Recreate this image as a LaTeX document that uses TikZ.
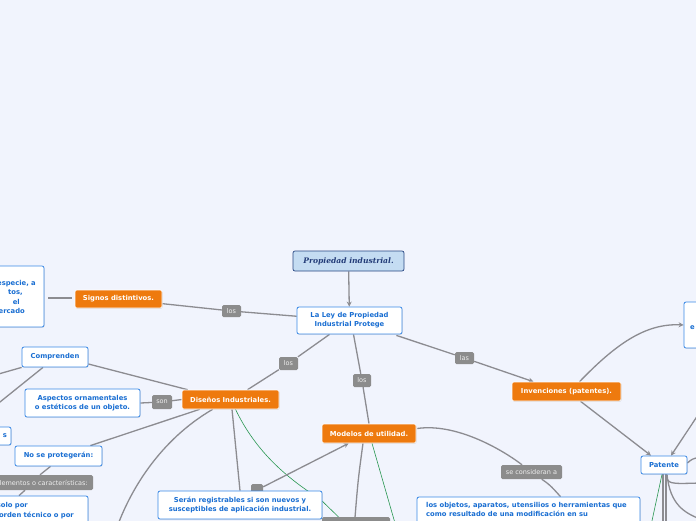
\documentclass[tikz,border=0pt]{standalone}
\usepackage{fontspec}
\setmainfont{DejaVu Sans}
\newfontfamily\titlefont{DejaVu Serif}
\usetikzlibrary{arrows.meta,calc,backgrounds,shadows}
\definecolor{bgc}{RGB}{241,244,253}
\definecolor{orf}{RGB}{238,122,14}
\definecolor{blb}{RGB}{59,137,230}
\definecolor{blt}{RGB}{25,110,210}
\definecolor{prf}{RGB}{196,220,242}
\definecolor{prb}{RGB}{40,70,130}
\definecolor{prt}{RGB}{35,60,120}
\definecolor{lbf}{RGB}{140,140,140}
\definecolor{lbt}{RGB}{238,238,238}
\definecolor{cng}{RGB}{140,140,145}
\definecolor{grn}{RGB}{40,150,80}
\newcommand\nodefont{\fontsize{6.8}{9}\selectfont\bfseries}
\newcommand\lblfont{\fontsize{6.5}{8}\selectfont}
\begin{document}
\begin{tikzpicture}[x=1pt,y=-1pt,
  topicbox/.style={draw=blb,line width=0.8pt,fill=white,rounded corners=2pt,text=blt,font=\nodefont,align=center,inner sep=0pt,
    drop shadow={shadow xshift=0.5pt,shadow yshift=-0.7pt,opacity=0.25}},
  orangebox/.style={draw=white,line width=0.6pt,fill=orf,rounded corners=2pt,text=white,font=\nodefont,align=center,inner sep=0pt,
    drop shadow={shadow xshift=0.5pt,shadow yshift=-0.7pt,opacity=0.3}},
  titlebox/.style={draw=prb,line width=0.7pt,fill=prf,rounded corners=2pt,text=prt,font=\titlefont\fontsize{7.6}{9}\selectfont\bfseries\itshape,inner sep=0pt},
  lbl/.style={fill=lbf,text=lbt,rounded corners=1.5pt,font=\lblfont,inner sep=0pt},
  frag/.style={text=blt,font=\nodefont,inner sep=0pt},
  conn/.style={draw=cng,line width=1.3pt},
  arr/.style={conn,-{Stealth[length=5pt,width=5pt]}},
  greenline/.style={draw=grn,line width=0.6pt}
]
\useasboundingbox (0,0) rectangle (696,520);
% nodes
\node[titlebox,minimum width=111,minimum height=20] (prop) at (348.5,261) {Propiedad industrial.};
\node[topicbox,minimum width=105,minimum height=27] (ley) at (349.5,320.5) {La Ley de Propiedad\\Industrial Protege};
\node[orangebox,minimum width=87,minimum height=18] (signos) at (118.5,299) {Signos distintivos.};
\node[topicbox,minimum width=60,minimum height=61] (leftbox) at (14,296.5) {};
\node[frag,anchor=east] (lt1) at (36,284) {especie, a};
\node[frag,anchor=east] (lt2) at (23,293) {tos,};
\node[frag,anchor=east] (lt3) at (20,302) {el};
\node[frag,anchor=east] (lt4) at (25,311) {ercado};
\node[orangebox,minimum width=97,minimum height=19] (diseno) at (230.5,399.5) {Diseños Industriales.};
\node[lbl,minimum width=20,minimum height=14] (son) at (162,402) {son};
\node[topicbox,minimum width=115,minimum height=28] (aspectos) at (82.5,403) {Aspectos ornamentales\\o estéticos de un objeto.};
\node[topicbox,minimum width=66,minimum height=20] (comprenden) at (55,357) {Comprenden};
\node[topicbox,minimum width=26,minimum height=18] (sbox) at (-2,436) {};
\node[frag,anchor=east] (st) at (7,436) {s};
\node[topicbox,minimum width=87,minimum height=20] (noprot) at (58.5,456) {No se protegerán:};
\node[lbl,minimum width=108,minimum height=15] (elem) at (39,482.5) {};
\node[text=lbt,font=\lblfont,inner sep=0pt,anchor=east] (elemt) at (88,482.5) {elementos o características:};
\node[topicbox,minimum width=104,minimum height=34] (solobox) at (36,513) {};
\node[frag,anchor=east] (so1) at (28,506) {solo por};
\node[frag,anchor=east] (so2) at (74,515) {orden técnico o por};
\node[orangebox,minimum width=94,minimum height=19] (modelos) at (369,433.5) {Modelos de utilidad.};
\node[lbl,minimum width=12,minimum height=12] (smallgray) at (257,490) {};
\node[topicbox,minimum width=164,minimum height=28] (seran) at (240,505) {Serán registrables si son nuevos y\\susceptibles de aplicación industrial.};
\node[lbl,minimum width=68,minimum height=8] (gbar) at (356,521) {};
\node[topicbox,minimum width=223,minimum height=38] (objetos) at (528.5,516) {};
\node[frag,anchor=north west,align=left,font=\fontsize{6.8}{9.5}\selectfont\bfseries] (objt) at (426,502) {los objetos, aparatos, utensilios o herramientas que\\como resultado de una modificación en su};
\node[orangebox,minimum width=109,minimum height=19] (invenc) at (566.5,391.5) {Invenciones (patentes).};
\node[topicbox,minimum width=46,minimum height=18] (patente) at (664,465) {Patente};
\node[topicbox,minimum width=30,minimum height=46] (rightbox) at (699,325) {};
\node[frag,anchor=west] (rt) at (690,328) {e};
\node[lbl,minimum width=19,minimum height=12] (los1) at (231.5,311) {los};
\node[lbl,minimum width=19,minimum height=13] (los2) at (288.5,363.5) {los};
\node[lbl,minimum width=18,minimum height=13] (los3) at (362,380.5) {los};
\node[lbl,minimum width=19,minimum height=12] (las) at (464.5,358) {las};
\node[lbl,minimum width=61,minimum height=14] (secons) at (531.5,472) {se consideran a};
\coordinate (c1) at (700,412);
\coordinate (cl1) at (-5,375);
\coordinate (cl2) at (-5,406);
\coordinate (cb1) at (116,530);
\coordinate (cb2) at (354,530);
\coordinate (cg1) at (397,530);
\coordinate (cg2) at (650,530);
\coordinate (cr1) at (700,457);
\coordinate (cr2) at (700,483);
\coordinate (cr3) at (700,519);
\coordinate (cv1) at (663,530);
\coordinate (cv2) at (666,530);
% connectors
\begin{scope}[on background layer]
\fill[bgc] (-10,-10) rectangle (710,530);
\draw[conn] (signos) -- (los1) -- (ley);
\draw[conn] ($(leftbox.east)+(4,1.5)$) -- ($(signos.west)+(-3,-1)$);
\draw[arr] (prop) -- (ley);
\draw[conn] ($(ley.south)+(-20,0)$) -- (los2) -- ($(diseno.north)+(17,0)$);
\draw[conn] ($(ley.south)+(4,0)$) -- (los3) -- (modelos.north);
\draw[conn] ($(ley.south east)+(-6,1)$) -- (las);
\draw[arr] (las) -- ($(invenc.north)+(-33,0)$);
\draw[arr] ($(invenc.north)+(13,0)$) .. controls (615,345) and (645,323) .. (rightbox.west);
\draw[arr] ($(invenc.south)+(14,0)$) -- ($(patente.north)+(-13,0)$);
\draw[arr] (c1) -- ($(patente.north)+(7,0)$);
\draw[conn] ($(patente.east)+(0,-2)$) .. controls (692,459) .. (cr1);
\draw[conn] ($(patente.south)+(2,0)$) .. controls (668,484) .. (cr2);
\draw[conn] ($(patente.south)+(3,0)$) .. controls (670,505) and (685,513) .. (cr3);
\draw[conn] ($(patente.south)+(-1,0)$) -- (cv1);
\draw[conn] ($(patente.south)+(2,0)$) -- (cv2);
\draw[greenline] ($(patente.south)+(-2,0)$) -- (cg2);
\draw[conn] ($(modelos.east)+(1,-5)$) .. controls (455,423) and (500,448) .. (secons);
\draw[conn] (secons) .. controls (550,485) .. ($(objetos.north)+(32,0)$);
\draw[conn] ($(modelos.south)+(-6,0)$) .. controls (358,480) .. (cb2);
\draw[greenline] ($(modelos.south)+(3,0)$) -- (cg1);
\draw[conn] (diseno.west) -- (son) -- (aspectos.east);
\draw[conn] ($(comprenden.east)+(0,7)$) -- ($(diseno.north west)+(6,0)$);
\draw[conn] ($(comprenden.south west)+(0,0)$) -- (cl1);
\draw[conn] ($(comprenden.south)+(-12,0)$) -- (cl2);
\draw[conn] ($(noprot.north east)+(-12,0)$) -- ($(diseno.south west)+(18,0)$);
\draw[conn] ($(noprot.south)+(-8,0)$) -- ($(elem.north)+(1,0)$);
\draw[conn] ($(elem.south)+(-14,0)$) -- ($(solobox.north)+(-17,0)$);
\draw[conn] ($(diseno.south west)+(31,0)$) .. controls (160,440) and (130,490) .. (cb1);
\draw[conn] ($(diseno.south)+(1.5,0)$) -- (seran.north);
\draw[greenline] ($(diseno.south)+(5,0)$) .. controls (255,450) and (285,477) .. (320,499) -- (352,530);
\draw[arr] (smallgray) -- ($(modelos.south west)+(27,0)$);
\end{scope}
\end{tikzpicture}
\end{document}
